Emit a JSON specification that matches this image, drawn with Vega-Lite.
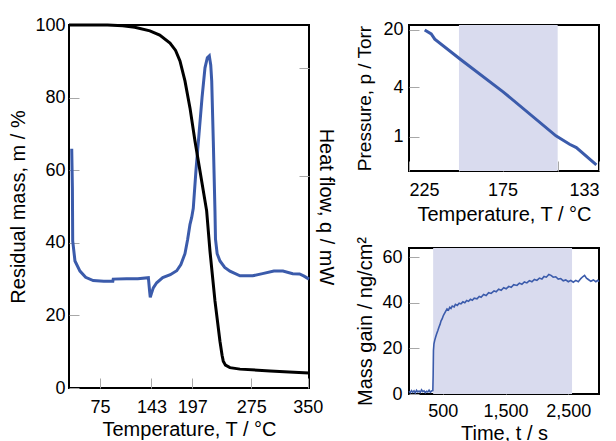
{
  "$schema": "https://vega.github.io/schema/vega-lite/v6.json",
  "padding": {"left": 7, "top": 15, "right": 0, "bottom": 0},
  "spacing": 17,
  "config": {
    "font": "Liberation Sans",
    "view": {"stroke": "black", "strokeWidth": 2},
    "axis": {"domain": false, "grid": false, "tickColor": "#a8a8a8", "tickSize": -10, "tickWidth": 1, "labelFontSize": 18, "labelColor": "black", "titleFontSize": 20, "titleFontWeight": "normal", "titleColor": "black"}
  },
  "datasets": {
    "tga": [{"T":34,"v":100},{"T":60,"v":100},{"T":85,"v":100},{"T":105,"v":99.8},{"T":121,"v":99.4},{"T":141,"v":98.4},{"T":154,"v":97.2},{"T":167.6,"v":95},{"T":175,"v":93},{"T":180.8,"v":90.1},{"T":187.4,"v":84.6},{"T":194.1,"v":77.1},{"T":200.7,"v":68},{"T":209.5,"v":57},{"T":216.1,"v":48.8},{"T":220.5,"v":37.7},{"T":227.1,"v":24},{"T":233.7,"v":12.9},{"T":236.5,"v":9},{"T":238.1,"v":7.4},{"T":241,"v":6.3},{"T":246.9,"v":5.6},{"T":260.2,"v":5.2},{"T":300,"v":4.7},{"T":325,"v":4.4},{"T":351.5,"v":4.1}],
    "dsc": [{"T":37.6,"q":65.9},{"T":38.5,"q":55},{"T":38.9,"q":40.5},{"T":41.9,"q":35},{"T":48.5,"q":32.2},{"T":56,"q":30.5},{"T":66,"q":29.6},{"T":80,"q":29.4},{"T":92,"q":29.4},{"T":92.5,"q":30.0},{"T":110,"q":30.1},{"T":125,"q":30.1},{"T":139,"q":30.4},{"T":140.5,"q":27},{"T":141.5,"q":25},{"T":143,"q":26},{"T":145.5,"q":27.6},{"T":150,"q":29},{"T":158,"q":30.4},{"T":168,"q":31.2},{"T":176.5,"q":32.3},{"T":182,"q":34},{"T":187.4,"q":37},{"T":191,"q":41},{"T":194,"q":45},{"T":196.3,"q":47},{"T":198.4,"q":49.5},{"T":202,"q":60},{"T":206,"q":70},{"T":210,"q":80},{"T":213.9,"q":88.2},{"T":217,"q":91},{"T":219.6,"q":91.5},{"T":221.5,"q":89},{"T":222.8,"q":84.6},{"T":224.9,"q":68},{"T":227.1,"q":48.8},{"T":227.8,"q":41},{"T":230,"q":37},{"T":233.7,"q":35},{"T":240,"q":33.2},{"T":246.9,"q":32.2},{"T":260.2,"q":30.9},{"T":277,"q":30.9},{"T":290,"q":31.5},{"T":305,"q":32.2},{"T":317,"q":32.2},{"T":330,"q":31.5},{"T":339,"q":31.4},{"T":345,"q":30.8},{"T":351.5,"q":30}],
    "vp": [{"x":2.04499,"p":20.0},{"x":2.06058,"p":17.9},{"x":2.06911,"p":15.5},{"x":2.13174,"p":8.7},{"x":2.23264,"p":3.54},{"x":2.35905,"p":1.03},{"x":2.39177,"p":0.815},{"x":2.40790,"p":0.741},{"x":2.45580,"p":0.456}],
    "qcm": [{"t":-40,"m":1.2},{"t":-20,"m":0.6},{"t":0,"m":1.5},{"t":20,"m":0.8},{"t":40,"m":1.4},{"t":60,"m":0.5},{"t":80,"m":1.6},{"t":100,"m":0.9},{"t":120,"m":1.3},{"t":140,"m":0.7},{"t":160,"m":1.8},{"t":180,"m":1.0},{"t":200,"m":1.4},{"t":220,"m":0.6},{"t":240,"m":1.2},{"t":260,"m":0.9},{"t":280,"m":1.7},{"t":300,"m":0.8},{"t":320,"m":1.3},{"t":340,"m":1.5},{"t":345,"m":8},{"t":350,"m":19},{"t":358,"m":22},{"t":370,"m":23.5},{"t":385,"m":25},{"t":400,"m":26.3},{"t":420,"m":27.8},{"t":440,"m":29.5},{"t":455,"m":30.5},{"t":470,"m":32},{"t":490,"m":33},{"t":505,"m":34.2},{"t":520,"m":35},{"t":540,"m":36},{"t":566,"m":37.3},{"t":590,"m":36.8},{"t":610,"m":38},{"t":630,"m":37.5},{"t":650,"m":38.6},{"t":680,"m":38.2},{"t":700,"m":39.3},{"t":730,"m":38.8},{"t":760,"m":39.8},{"t":789,"m":39.5},{"t":820,"m":40.4},{"t":850,"m":40.0},{"t":880,"m":41},{"t":910,"m":40.6},{"t":940,"m":41.5},{"t":970,"m":41.1},{"t":1000,"m":42.0},{"t":1044,"m":41.7},{"t":1080,"m":42.8},{"t":1110,"m":42.4},{"t":1150,"m":43.6},{"t":1190,"m":43.2},{"t":1230,"m":44.4},{"t":1270,"m":44.1},{"t":1316,"m":45.2},{"t":1350,"m":44.8},{"t":1390,"m":45.9},{"t":1430,"m":45.5},{"t":1470,"m":46.6},{"t":1510,"m":46.1},{"t":1550,"m":47.2},{"t":1590,"m":46.8},{"t":1630,"m":47.9},{"t":1682,"m":47.6},{"t":1720,"m":48.6},{"t":1760,"m":48.1},{"t":1800,"m":49.1},{"t":1840,"m":48.7},{"t":1880,"m":49.7},{"t":1920,"m":49.2},{"t":1960,"m":50.2},{"t":2000,"m":49.8},{"t":2040,"m":50.8},{"t":2080,"m":50.4},{"t":2113,"m":51.5},{"t":2150,"m":51.2},{"t":2190,"m":52.4},{"t":2225,"m":52.0},{"t":2260,"m":51.2},{"t":2300,"m":51.4},{"t":2340,"m":50.4},{"t":2380,"m":50.6},{"t":2420,"m":49.6},{"t":2460,"m":50.0},{"t":2500,"m":49.2},{"t":2540,"m":49.8},{"t":2580,"m":49.0},{"t":2620,"m":49.8},{"t":2660,"m":49.2},{"t":2700,"m":50.6},{"t":2730,"m":51.4},{"t":2760,"m":52.0},{"t":2790,"m":50.8},{"t":2820,"m":50.2},{"t":2860,"m":49.4},{"t":2900,"m":50.0},{"t":2940,"m":49.2},{"t":2970,"m":49.8},{"t":2990,"m":49.3}]
  },
  "hconcat": [
    {
      "width": 240,
      "height": 363,
      "layer": [
        {
          "data": {"name": "dsc"},
          "mark": {"type": "line", "color": "#3b5bab", "strokeWidth": 3},
          "encoding": {
            "x": {"field": "T", "type": "quantitative", "scale": {"domain": [34, 351.5], "nice": false, "zero": false}, "axis": {"values": [75, 143, 197, 275, 350], "title": "Temperature, T / °C", "labelPadding": 20, "titlePadding": 3}},
            "y": {"field": "q", "type": "quantitative", "scale": {"domain": [0, 100], "nice": false, "zero": false}, "axis": {"orient": "right", "labels": false, "values": [58.5, 88.2], "title": "Heat flow, q / mW", "titlePadding": 6}}
          }
        },
        {
          "layer": [
            {
              "data": {"name": "tga"},
              "mark": {"type": "line", "color": "black", "strokeWidth": 3},
              "encoding": {
                "x": {"field": "T", "type": "quantitative", "scale": {"domain": [34, 351.5], "nice": false, "zero": false}},
                "y": {"field": "v", "type": "quantitative", "scale": {"domain": [0, 100], "nice": false, "zero": false}, "axis": {"values": [0, 20, 40, 60, 80, 100], "title": "Residual mass, m / %", "labelPadding": 14, "titlePadding": 6}}
              }
            }
          ]
        }
      ],
      "resolve": {"scale": {"y": "independent"}}
    },
    {
      "spacing": 10,
      "vconcat": [
        {
          "width": 190,
          "height": 146,
          "layer": [
            {
              "data": {"values": [{"a": 2.12698, "b": 2.36323}]},
              "mark": {"type": "rect", "color": "#d9dbee"},
              "encoding": {
                "x": {"field": "a", "type": "quantitative", "scale": {"domain": [2.00743, 2.46214], "nice": false, "zero": false}, "axis": {"values": [2.00743, 2.12698, 2.2314, 2.36323, 2.46214], "labelExpr": "format(1000 / datum.value - 273.15, '.0f')", "title": "Temperature, T / °C", "labelPadding": 20, "titlePadding": 5}},
                "x2": {"field": "b"}
              }
            },
            {
              "data": {"name": "vp"},
              "mark": {"type": "line", "color": "#3b5bab", "strokeWidth": 3},
              "encoding": {
                "x": {"field": "x", "type": "quantitative"},
                "y": {"field": "p", "type": "quantitative", "scale": {"type": "log", "domain": [0.385, 23], "nice": false}, "axis": {"values": [1, 4, 20], "title": "Pressure, p / Torr", "titleFontSize": 19, "labelPadding": 16, "titlePadding": 8}}
              }
            }
          ]
        },
        {
          "width": 190,
          "height": 146,
          "layer": [
            {
              "data": {"values": [{"a": 345, "b": 2560}]},
              "mark": {"type": "rect", "color": "#d9dbee"},
              "encoding": {
                "x": {"field": "a", "type": "quantitative", "scale": {"domain": [-40, 2990], "nice": false, "zero": false}, "axis": {"values": [500, 1500, 2500], "title": "Time, t / s", "labelPadding": 18, "titlePadding": 3}},
                "x2": {"field": "b"}
              }
            },
            {
              "data": {"name": "qcm"},
              "mark": {"type": "line", "color": "#3b5bab", "strokeWidth": 1.6},
              "encoding": {
                "x": {"field": "t", "type": "quantitative"},
                "y": {"field": "m", "type": "quantitative", "scale": {"domain": [0, 64], "nice": false}, "axis": {"values": [0, 20, 40, 60], "title": "Mass gain / ng/cm²", "labelPadding": 17, "titlePadding": 6}}
              }
            }
          ]
        }
      ]
    }
  ]
}
